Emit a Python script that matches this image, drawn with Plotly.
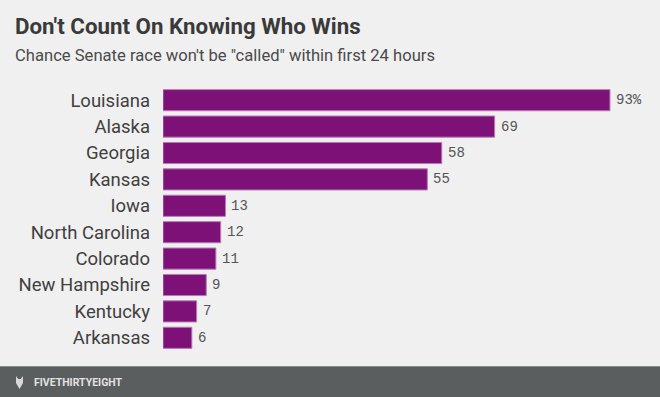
import plotly.graph_objects as go

states = ["Louisiana", "Alaska", "Georgia", "Kansas", "Iowa", "North Carolina",
          "Colorado", "New Hampshire", "Kentucky", "Arkansas"]
chances = [93, 69, 58, 55, 13, 12, 11, 9, 7, 6]
value_labels = ["93%", "69", "58", "55", "13", "12", "11", "9", "7", "6"]

W, H = 660, 397
ML, MR, MT, MB = 163, 0, 87, 46
PW, PH = W - ML - MR, H - MT - MB

def px(x):
    return (x - ML) / PW

def py(y):
    return (H - MB - y) / PH

bg = "#f0f0f0"
bar_color = "#7d1178"

fig = go.Figure()
fig.add_trace(go.Bar(
    x=chances, y=states, orientation="h",
    marker=dict(color=bar_color, line=dict(color="#b57ab2", width=1)),
    hoverinfo="skip",
))

shapes = [
    dict(type="rect", xref="paper", yref="paper", x0=px(0), x1=px(W),
         y0=py(367), y1=py(H + 2), fillcolor="#5a5e5e", line=dict(width=0), layer="above"),
    dict(type="line", xref="paper", yref="paper", x0=px(0), x1=px(W),
         y0=py(366.5), y1=py(366.5), line=dict(color="#8a8d8d", width=1)),
    dict(type="path", xref="paper", yref="paper",
         path=(f"M {px(16)},{py(376)} L {px(18.3)},{py(379)} L {px(20.7)},{py(379)} "
               f"L {px(23)},{py(376)} L {px(23)},{py(383)} L {px(19.5)},{py(389)} "
               f"L {px(16)},{py(383)} Z"),
         fillcolor="#d8d8d8", line=dict(width=0)),
]

annotations = [
    dict(text="<b>Don't Count On Knowing Who Wins</b>", xref="paper", yref="paper",
         x=px(13), y=py(26), xanchor="left", yanchor="middle", showarrow=False,
         font=dict(family="Roboto", size=22.3, color="#3a3a3a")),
    dict(text="Chance Senate race won't be \"called\" within first 24 hours", xref="paper", yref="paper",
         x=px(13), y=py(55.5), xanchor="left", yanchor="middle", showarrow=False,
         font=dict(family="Roboto", size=16.6, color="#4a4a4a")),
    dict(text="<b>FIVETHIRTYEIGHT</b>", xref="paper", yref="paper",
         x=px(32), y=py(382.5), xanchor="left", yanchor="middle", showarrow=False,
         font=dict(family="Roboto", size=10.5, color="#e2e2e2")),
]
for s, v, lab in zip(states, chances, value_labels):
    annotations.append(dict(
        text=lab, x=v, y=s, xref="x", yref="y", xanchor="left", yanchor="middle",
        xshift=4, showarrow=False,
        font=dict(family="Liberation Mono", size=14, color="#555555")))

fig.update_layout(
    width=W, height=H,
    margin=dict(l=ML, r=MR, t=MT, b=MB),
    paper_bgcolor=bg, plot_bgcolor=bg,
    bargap=0.2, showlegend=False,
    xaxis=dict(range=[0, PW / 4.806], visible=False, fixedrange=True),
    yaxis=dict(autorange="reversed", showgrid=False, zeroline=False, showline=False,
               ticks="", ticklabelstandoff=12, fixedrange=True,
               tickfont=dict(family="Roboto", size=18.5, color="#404040")),
    shapes=shapes, annotations=annotations,
)

fig.write_html("out.html", config={"displayModeBar": False},
               post_script="document.body.style.margin='0';document.body.style.background='#f0f0f0';")
